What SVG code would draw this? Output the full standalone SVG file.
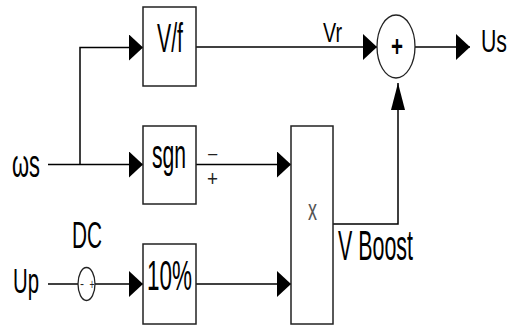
<svg xmlns="http://www.w3.org/2000/svg" width="514" height="327" viewBox="0 0 514 327">
<style>
.box{fill:#fff;stroke:#222;stroke-width:1.5}
.ln{fill:none;stroke:#000;stroke-width:1.5}
.t{font-family:"Liberation Sans",Arial,sans-serif;fill:#000}
.s{font-family:"Liberation Sans",Arial,sans-serif;fill:#222}
</style>
<defs>
<marker id="ah" markerUnits="userSpaceOnUse" markerWidth="14" markerHeight="26" refX="14" refY="13" orient="auto">
<path d="M0,0 L14,13 L0,26 z" fill="#000"/>
</marker>
<marker id="av" markerUnits="userSpaceOnUse" markerWidth="27" markerHeight="14" refX="27" refY="7" orient="auto">
<path d="M0,0 L27,7 L0,14 z" fill="#000"/>
</marker>
</defs>
<g id="connectors">
<path class="ln" d="M48,164.5 H143" marker-end="url(#ah)"/>
<path class="ln" d="M80,164.5 V47.5 H143" marker-end="url(#ah)"/>
<path class="ln" d="M196,47 H377" marker-end="url(#ah)"/>
<path class="ln" d="M415,47 H470" marker-end="url(#ah)"/>
<path class="ln" d="M196,164.5 H291" marker-end="url(#ah)"/>
<path class="ln" d="M48,284 H78"/>
<path class="ln" d="M95,284 H143" marker-end="url(#ah)"/>
<path class="ln" d="M196,284 H291" marker-end="url(#ah)"/>
<path class="ln" d="M333,224 H398 V83" marker-end="url(#av)"/>
</g>
<g id="input-ws"><text class="t" x="12" y="177" font-size="38" textLength="28" lengthAdjust="spacingAndGlyphs">ωs</text></g>
<g id="input-up"><text class="t" x="13" y="293" font-size="35" textLength="26" lengthAdjust="spacingAndGlyphs">Up</text></g>
<g id="dc-source">
<ellipse cx="86.5" cy="284" rx="8.5" ry="16.5" fill="#fff" stroke="#222" stroke-width="1.3"/>
<text class="s" x="82" y="287.5" font-size="12" text-anchor="middle">-</text>
<text class="s" x="92" y="289" font-size="14" text-anchor="middle" textLength="5" lengthAdjust="spacingAndGlyphs">+</text>
<text class="t" x="72" y="248" font-size="36" textLength="30" lengthAdjust="spacingAndGlyphs">DC</text>
</g>
<g id="vf">
<rect class="box" x="143" y="7" width="53" height="79"/>
<text class="t" x="157" y="52" font-size="40" textLength="26" lengthAdjust="spacingAndGlyphs">V/f</text>
</g>
<g id="sgn">
<rect class="box" x="143" y="126" width="53" height="78"/>
<text class="t" transform="translate(152,168) scale(0.528,1)" font-size="40">sgn</text>
<text class="s" x="207" y="160" font-size="16" textLength="11" lengthAdjust="spacingAndGlyphs">−</text>
<text class="s" x="207" y="186" font-size="22" textLength="11" lengthAdjust="spacingAndGlyphs">+</text>
</g>
<g id="pct">
<rect class="box" x="143" y="244" width="53" height="80"/>
<text class="t" x="147" y="290" font-size="42" textLength="45" lengthAdjust="spacingAndGlyphs">10%</text>
</g>
<g id="mult">
<rect class="box" x="291" y="126" width="42" height="198"/>
<text x="308" y="220" font-size="29" fill="#555" font-family="Liberation Sans, Arial, sans-serif" textLength="9" lengthAdjust="spacingAndGlyphs">x</text>
</g>
<g id="vboost-label"><text class="t" x="338" y="260" font-size="42" textLength="75" lengthAdjust="spacingAndGlyphs">V Boost</text></g>
<g id="vr-label"><text class="t" x="323" y="42" font-size="27" textLength="19" lengthAdjust="spacingAndGlyphs">Vr</text></g>
<g id="sum">
<ellipse cx="396" cy="46.5" rx="19" ry="31.5" fill="#fff" stroke="#222" stroke-width="1.3"/>
<text class="t" x="397" y="56" font-size="30" font-weight="bold" text-anchor="middle" textLength="12" lengthAdjust="spacingAndGlyphs">+</text>
</g>
<g id="output-us"><text class="t" transform="translate(481,52) scale(0.665,1)" font-size="32">Us</text></g>
</svg>
